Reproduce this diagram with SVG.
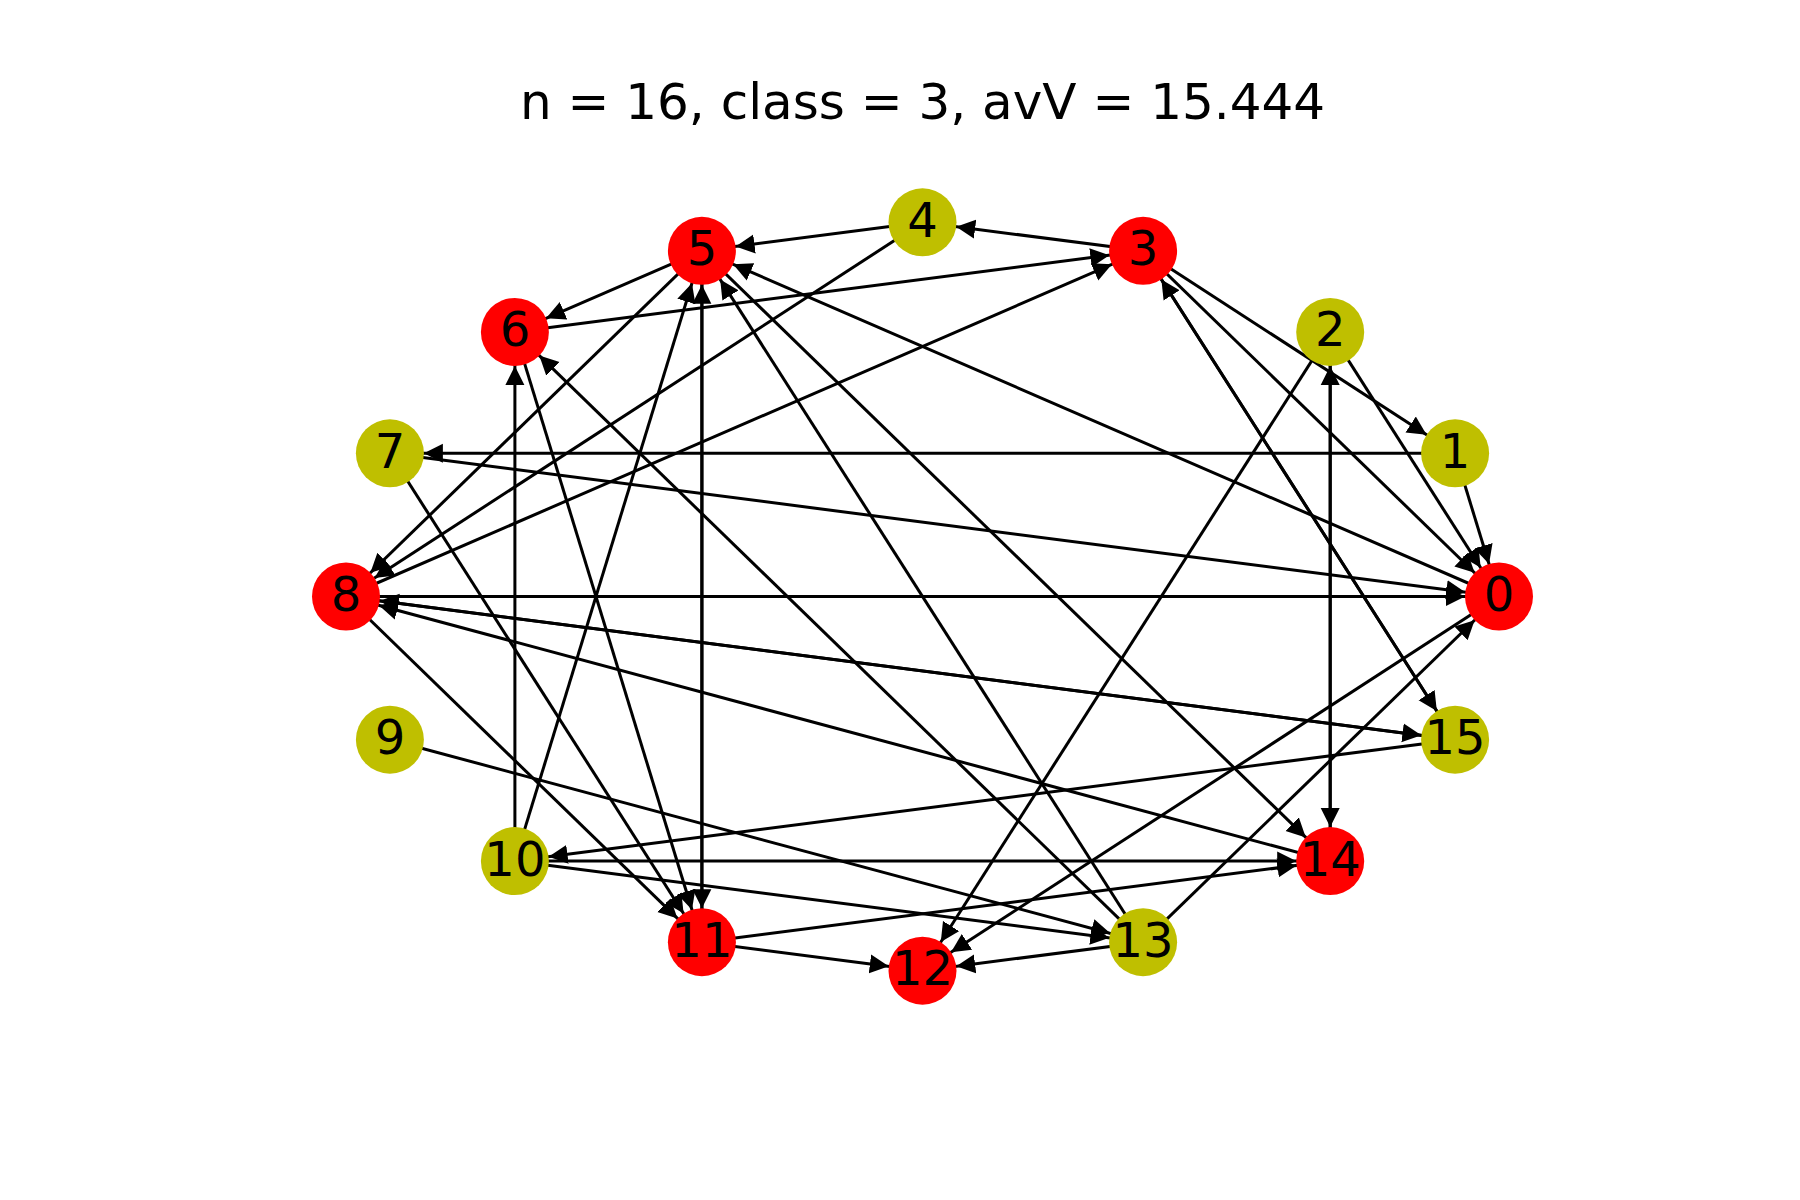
<svg xmlns="http://www.w3.org/2000/svg" width="1800" height="1200" viewBox="0 0 1800 1200">
<style>
.e{stroke:#000;stroke-width:3;fill:none;marker-end:url(#ah)}
.r{fill:#ff0000}
.y{fill:#bfbf00}
.l{font-family:"DejaVu Sans",sans-serif;font-size:48px;text-anchor:middle;fill:#000}
.t{font-family:"DejaVu Sans",sans-serif;font-size:50px;text-anchor:middle;fill:#000}
</style>
<defs>
<marker id="ah" markerUnits="userSpaceOnUse" viewBox="0 0 60 20" markerWidth="60" markerHeight="20" refX="53" refY="10" orient="auto">
<path d="M0,0.5 L19,10 L0,19.5 Z" fill="#000"/>
</marker>
</defs>
<rect width="1800" height="1200" fill="#fff"/>
<text class="t" x="922.5" y="119">n = 16, class = 3, avV = 15.444</text>
<g id="edges">
<line class="e" x1="922.5" y1="222.3" x2="701.9" y2="250.8"/>
<line class="e" x1="1143.1" y1="250.8" x2="922.5" y2="222.3"/>
<line class="e" x1="701.9" y1="250.8" x2="514.9" y2="331.9"/>
<line class="e" x1="514.9" y1="331.9" x2="1143.1" y2="250.8"/>
<line class="e" x1="346.0" y1="596.5" x2="1143.1" y2="250.8"/>
<line class="e" x1="922.5" y1="222.3" x2="346.0" y2="596.5"/>
<line class="e" x1="701.9" y1="250.8" x2="346.0" y2="596.5"/>
<line class="e" x1="1143.1" y1="250.8" x2="1455.1" y2="453.3"/>
<line class="e" x1="1143.1" y1="250.8" x2="1499.0" y2="596.5"/>
<line class="e" x1="1330.2" y1="331.9" x2="1499.0" y2="596.5"/>
<line class="e" x1="1455.1" y1="453.3" x2="1499.0" y2="596.5"/>
<line class="e" x1="1455.1" y1="453.3" x2="389.9" y2="453.3"/>
<line class="e" x1="389.9" y1="453.3" x2="1499.0" y2="596.5"/>
<line class="e" x1="1499.0" y1="596.5" x2="701.9" y2="250.8"/>
<line class="e" x1="346.0" y1="596.5" x2="1499.0" y2="596.5"/>
<line class="e" x1="346.0" y1="596.5" x2="1455.1" y2="739.7"/>
<line class="e" x1="1455.1" y1="739.7" x2="346.0" y2="596.5"/>
<line class="e" x1="1330.2" y1="861.1" x2="346.0" y2="596.5"/>
<line class="e" x1="346.0" y1="596.5" x2="701.9" y2="942.2"/>
<line class="e" x1="389.9" y1="453.3" x2="701.9" y2="942.2"/>
<line class="e" x1="514.9" y1="331.9" x2="701.9" y2="942.2"/>
<line class="e" x1="701.9" y1="250.8" x2="701.9" y2="942.2"/>
<line class="e" x1="701.9" y1="942.2" x2="701.9" y2="250.8"/>
<line class="e" x1="514.9" y1="861.1" x2="701.9" y2="250.8"/>
<line class="e" x1="514.9" y1="861.1" x2="514.9" y2="331.9"/>
<line class="e" x1="514.9" y1="861.1" x2="1330.2" y2="861.1"/>
<line class="e" x1="514.9" y1="861.1" x2="1143.1" y2="942.2"/>
<line class="e" x1="1455.1" y1="739.7" x2="514.9" y2="861.1"/>
<line class="e" x1="389.9" y1="739.7" x2="1143.1" y2="942.2"/>
<line class="e" x1="701.9" y1="942.2" x2="1330.2" y2="861.1"/>
<line class="e" x1="701.9" y1="942.2" x2="922.5" y2="970.7"/>
<line class="e" x1="1143.1" y1="942.2" x2="922.5" y2="970.7"/>
<line class="e" x1="1143.1" y1="942.2" x2="1499.0" y2="596.5"/>
<line class="e" x1="1499.0" y1="596.5" x2="922.5" y2="970.7"/>
<line class="e" x1="1330.2" y1="331.9" x2="922.5" y2="970.7"/>
<line class="e" x1="1330.2" y1="331.9" x2="1330.2" y2="861.1"/>
<line class="e" x1="1330.2" y1="861.1" x2="1330.2" y2="331.9"/>
<line class="e" x1="1143.1" y1="942.2" x2="514.9" y2="331.9"/>
<line class="e" x1="1143.1" y1="942.2" x2="701.9" y2="250.8"/>
<line class="e" x1="701.9" y1="250.8" x2="1330.2" y2="861.1"/>
<line class="e" x1="1143.1" y1="250.8" x2="1455.1" y2="739.7"/>
<line class="e" x1="1455.1" y1="739.7" x2="1143.1" y2="250.8"/>
</g>
<g id="node0"><circle class="r" cx="1499.0" cy="596.5" r="34"/><text class="l" x="1499.0" y="611">0</text></g>
<g id="node1"><circle class="y" cx="1455.1" cy="453.3" r="34"/><text class="l" x="1455.1" y="467.8">1</text></g>
<g id="node2"><circle class="y" cx="1330.2" cy="331.9" r="34"/><text class="l" x="1330.2" y="346.4">2</text></g>
<g id="node3"><circle class="r" cx="1143.1" cy="250.8" r="34"/><text class="l" x="1143.1" y="265.3">3</text></g>
<g id="node4"><circle class="y" cx="922.5" cy="222.3" r="34"/><text class="l" x="922.5" y="236.8">4</text></g>
<g id="node5"><circle class="r" cx="701.9" cy="250.8" r="34"/><text class="l" x="701.9" y="265.3">5</text></g>
<g id="node6"><circle class="r" cx="514.9" cy="331.9" r="34"/><text class="l" x="514.9" y="346.4">6</text></g>
<g id="node7"><circle class="y" cx="389.9" cy="453.3" r="34"/><text class="l" x="389.9" y="467.8">7</text></g>
<g id="node8"><circle class="r" cx="346.0" cy="596.5" r="34"/><text class="l" x="346.0" y="611">8</text></g>
<g id="node9"><circle class="y" cx="389.9" cy="739.7" r="34"/><text class="l" x="389.9" y="754.2">9</text></g>
<g id="node10"><circle class="y" cx="514.9" cy="861.1" r="34"/><text class="l" x="514.9" y="875.6">10</text></g>
<g id="node11"><circle class="r" cx="701.9" cy="942.2" r="34"/><text class="l" x="701.9" y="956.7">11</text></g>
<g id="node12"><circle class="r" cx="922.5" cy="970.7" r="34"/><text class="l" x="922.5" y="985.2">12</text></g>
<g id="node13"><circle class="y" cx="1143.1" cy="942.2" r="34"/><text class="l" x="1143.1" y="956.7">13</text></g>
<g id="node14"><circle class="r" cx="1330.2" cy="861.1" r="34"/><text class="l" x="1330.2" y="875.6">14</text></g>
<g id="node15"><circle class="y" cx="1455.1" cy="739.7" r="34"/><text class="l" x="1455.1" y="754.2">15</text></g>
</svg>
